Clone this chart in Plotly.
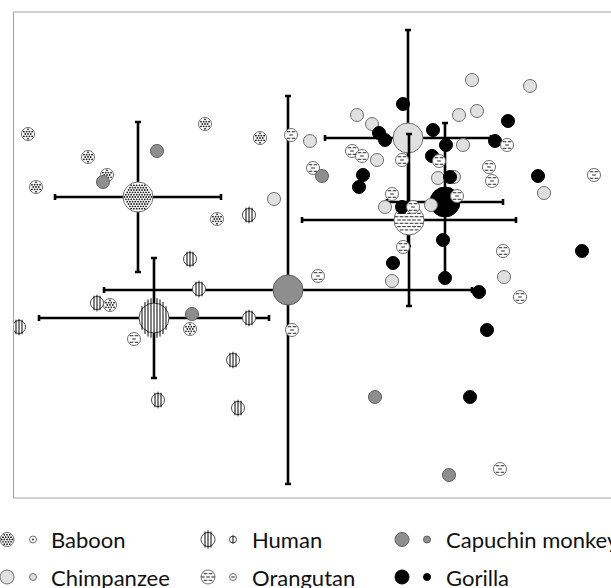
import numpy as np
import plotly.graph_objects as go

# ---------------- data (arbitrary score units) ----------------
baboon_x = [14, 74, 93, 22, 191, 246, 203, 96, 176]
baboon_y = [364, 341, 323, 311, 374, 360, 279, 193, 169]

human_x = [235, 176, 185, 83, 5, 235, 219, 144, 224]
human_y = [283, 239, 209, 195, 171, 180, 138, 98, 90]

capuchin_x = [143, 89, 178, 308, 361, 435]
capuchin_y = [347, 316, 184, 322, 101, 23]

chimp_x = [260, 458, 516, 343, 358, 445, 463, 296, 449, 363, 424, 440, 530, 371, 417, 378, 490]
chimp_y = [299, 418, 412, 383, 374, 383, 387, 357, 353, 338, 320, 321, 305, 291, 293, 217, 221]

gorilla_x = [389, 494, 365, 371, 419, 432, 481, 418, 349, 345, 436, 524, 388, 429, 568, 379, 431, 465, 473, 456]
gorilla_y = [394, 377, 365, 358, 368, 353, 357, 342, 323, 311, 321, 322, 291, 258, 247, 235, 220, 206, 168, 101]

orang_x = [277, 338, 348, 299, 388, 425, 493, 475, 478, 580, 378, 443, 399, 389, 489, 304, 506, 278, 486, 120]
orang_y = [363, 347, 342, 330, 338, 337, 353, 331, 317, 323, 304, 302, 291, 251, 247, 222, 201, 168, 29, 159]

mean_species = ["Baboon", "Human", "Capuchin monkey", "Chimpanzee", "Gorilla", "Orangutan"]
mean_x = [124, 140, 274, 394, 431, 395]
mean_y = [301, 180, 208, 360, 296, 278]
sd_x = [83, 115, 184, 83, 58, 107]
sd_y = [75, 60, 194, 108, 79, 86]

legend_rows = [["Baboon", "Human", "Capuchin monkey"], ["Chimpanzee", "Orangutan", "Gorilla"]]

# ---------------- styles ----------------
STYLE = {
    "Baboon": dict(fill="white", edge="#6e6e6e", pattern="dots"),
    "Human": dict(fill="white", edge="#4a4a4a", pattern="stripes"),
    "Capuchin monkey": dict(fill="#8e8e8e", edge="#5e5e5e", pattern=None),
    "Chimpanzee": dict(fill="#e0e0e0", edge="#6e6e6e", pattern=None),
    "Gorilla": dict(fill="#000000", edge="#000000", pattern=None),
    "Orangutan": dict(fill="white", edge="#6e6e6e", pattern="dashes"),
}
PT = 13      # individual point diameter (px)
MEAN = 30    # mean marker diameter (px)
LEG_BIG, LEG_SMALL = 14, 7
FONT = "Lato"


def pattern_trace(xs, ys, diam, kind, xa="x", ya="y"):
    r = diam / 2.0
    px, py, sz = [], [], []
    if kind == "dots":
        sp = 2.7
        rr = r - 1.5
        n = int(rr // sp) + 2
        for cx, cy in zip(xs, ys):
            for j in range(-n, n + 1):
                dy = j * sp * 0.866
                sh = sp / 2 if j % 2 else 0.0
                for i in range(-n, n + 1):
                    dx = i * sp + sh
                    if dx * dx + dy * dy <= rr * rr:
                        px.append(cx + dx); py.append(cy + dy)
        return go.Scatter(x=px, y=py, mode="markers", xaxis=xa, yaxis=ya, hoverinfo="skip",
                          marker=dict(symbol="circle", size=1.8, color="#1e1e1e", line=dict(width=0)))
    if kind == "stripes":
        sp = 3.0
        n = int(r // sp) + 1
        for cx, cy in zip(xs, ys):
            for i in range(-n, n + 1):
                dx = i * sp
                if abs(dx) < r - 1.2:
                    ch = 2 * np.sqrt(r * r - dx * dx) - 1.2
                    px.append(cx + dx); py.append(cy); sz.append(ch)
        return go.Scatter(x=px, y=py, mode="markers", xaxis=xa, yaxis=ya, hoverinfo="skip",
                          marker=dict(symbol="line-ns", size=sz, color="black",
                                      line=dict(width=1.4, color="black")))
    if kind == "dashes":
        rs, per, dl = 3.3, 5.0, 2.6
        rr = r - 2.0
        n = int(r // rs) + 2
        for cx, cy in zip(xs, ys):
            for j in range(-n, n + 1):
                dy = j * rs
                sh = per / 2 if j % 2 else 0.0
                for i in range(-n, n + 1):
                    dx = i * per + sh
                    if dx * dx + dy * dy <= rr * rr:
                        px.append(cx + dx); py.append(cy + dy)
        return go.Scatter(x=px, y=py, mode="markers", xaxis=xa, yaxis=ya, hoverinfo="skip",
                          marker=dict(symbol="line-ew", size=dl,
                                      color="#3a3a3a", line=dict(width=1.1, color="#3a3a3a")))
    return None


def base_trace(xs, ys, diam, sp, xa="x", ya="y", err=None):
    st = STYLE[sp]
    t = go.Scatter(x=xs, y=ys, mode="markers", xaxis=xa, yaxis=ya, hoverinfo="skip",
                   marker=dict(symbol="circle", size=diam, color=st["fill"],
                               line=dict(width=1, color=st["edge"])))
    if err is not None:
        t.error_x = dict(type="data", array=[err[0]], color="black", thickness=2.6, width=3)
        t.error_y = dict(type="data", array=[err[1]], color="black", thickness=2.6, width=3)
    return t


fig = go.Figure()

# ---- means with error bars ----
for i, sp in enumerate(mean_species):
    fig.add_trace(base_trace([mean_x[i]], [mean_y[i]], MEAN, sp, err=(sd_x[i], sd_y[i])))
    pat = STYLE[sp]["pattern"]
    if pat:
        fig.add_trace(pattern_trace([mean_x[i]], [mean_y[i]], MEAN, pat))

# ---- individual points ----
groups = [
    ("Human", human_x, human_y),
    ("Baboon", baboon_x, baboon_y),
    ("Chimpanzee", chimp_x, chimp_y),
    ("Gorilla", gorilla_x, gorilla_y),
    ("Orangutan", orang_x, orang_y),
    ("Capuchin monkey", capuchin_x, capuchin_y),
]
for sp, xs, ys in groups:
    fig.add_trace(base_trace(xs, ys, PT, sp))
    pat = STYLE[sp]["pattern"]
    if pat:
        fig.add_trace(pattern_trace(xs, ys, PT, pat))

# ---- custom legend (pixel coordinates on an overlay axis) ----
col_big = [7, 208, 402]
col_small = [33, 233, 427]
col_text = [49, 250, 444]
row_y = [539.5, 577]
annotations = []
for r, names in enumerate(legend_rows):
    for c, sp in enumerate(names):
        for xx, d in ((col_big[c], LEG_BIG), (col_small[c], LEG_SMALL)):
            fig.add_trace(base_trace([xx], [row_y[r]], d, sp, xa="x2", ya="y2"))
            pat = STYLE[sp]["pattern"]
            if pat:
                fig.add_trace(pattern_trace([xx], [row_y[r]], d, pat, xa="x2", ya="y2"))
        annotations.append(dict(x=col_text[c], y=row_y[r], xref="x2", yref="y2", text=sp,
                                showarrow=False, xanchor="left", yanchor="middle",
                                font=dict(family=FONT, size=22, color="#111111")))

W, H = 611, 588
fig.update_layout(
    width=W, height=H, margin=dict(l=0, r=0, t=0, b=0, pad=0),
    paper_bgcolor="white", plot_bgcolor="rgba(0,0,0,0)", showlegend=False,
    xaxis=dict(domain=[14 / W, 1], range=[0, 597], visible=False, fixedrange=True),
    yaxis=dict(domain=[90 / H, 576 / H], range=[0, 486], visible=False, fixedrange=True),
    xaxis2=dict(domain=[0, 1], range=[0, W], visible=False, anchor="y2", fixedrange=True),
    yaxis2=dict(domain=[0, 1], range=[H, 0], visible=False, anchor="x2", fixedrange=True),
    annotations=annotations,
    shapes=[dict(type="rect", xref="paper", yref="paper", x0=13.5 / W, x1=1.05,
                 y0=90 / H, y1=576 / H, line=dict(color="#a0a0a0", width=1), layer="below")],
)

fig.write_html("out.html")
